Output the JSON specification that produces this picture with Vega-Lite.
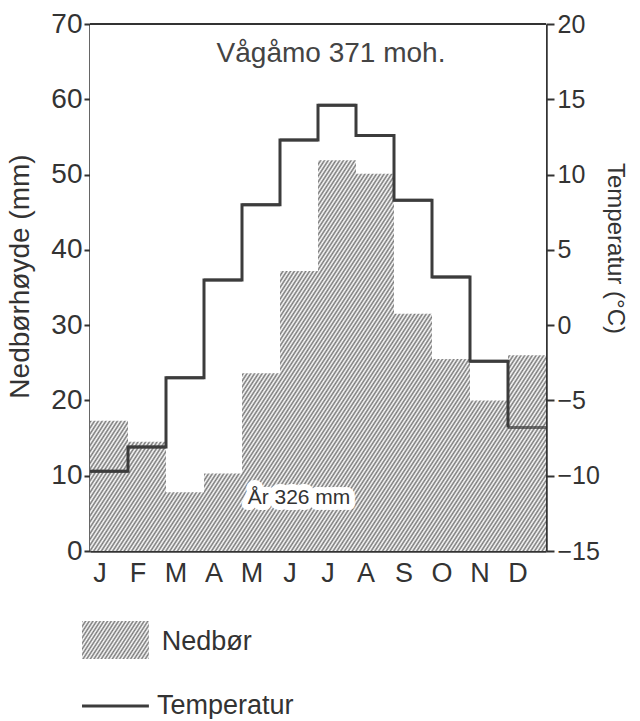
{
"padding": {"left": 6, "top": 10, "right": 0, "bottom": 0},
"config": {"font": "Liberation Sans", "view": {"stroke": null},
  "axis": {"zindex": 1, "grid": false, "labelColor": "#333", "titleColor": "#333", "tickColor": "#333", "domainColor": "#333", "titleFontWeight": "normal"}},
"spacing": 35,
"vconcat": [
{
 "width": 456, "height": 527,
 "data": {"values": [
  {"mnd":"jan","nedbor":17.3,"temp":-9.7},
  {"mnd":"feb","nedbor":14.5,"temp":-8.1},
  {"mnd":"mar","nedbor":7.8,"temp":-3.5},
  {"mnd":"apr","nedbor":10.3,"temp":3.0},
  {"mnd":"mai","nedbor":23.6,"temp":8.0},
  {"mnd":"jun","nedbor":37.2,"temp":12.3},
  {"mnd":"jul","nedbor":51.9,"temp":14.6},
  {"mnd":"aug","nedbor":50.1,"temp":12.6},
  {"mnd":"sep","nedbor":31.5,"temp":8.3},
  {"mnd":"okt","nedbor":25.5,"temp":3.2},
  {"mnd":"nov","nedbor":20.0,"temp":-2.4},
  {"mnd":"des","nedbor":26.0,"temp":-6.8}
 ]},
 "layer": [
  {"layer": [
   {"mark": {"type": "bar", "fill": {"gradient": "linear", "x1": 0, "y1": 0, "x2": 0.12195, "y2": 1.09756, "stops": [
{"offset":0,"color":"#777"},{"offset":0.005,"color":"#fff"},{"offset":0.01,"color":"#777"},{"offset":0.015,"color":"#fff"},{"offset":0.02,"color":"#777"},{"offset":0.025,"color":"#fff"},{"offset":0.03,"color":"#777"},{"offset":0.035,"color":"#fff"},{"offset":0.04,"color":"#777"},{"offset":0.045,"color":"#fff"},{"offset":0.05,"color":"#777"},{"offset":0.055,"color":"#fff"},{"offset":0.06,"color":"#777"},{"offset":0.065,"color":"#fff"},{"offset":0.07,"color":"#777"},{"offset":0.075,"color":"#fff"},{"offset":0.08,"color":"#777"},{"offset":0.085,"color":"#fff"},{"offset":0.09,"color":"#777"},{"offset":0.095,"color":"#fff"},
{"offset":0.1,"color":"#777"},{"offset":0.105,"color":"#fff"},{"offset":0.11,"color":"#777"},{"offset":0.115,"color":"#fff"},{"offset":0.12,"color":"#777"},{"offset":0.125,"color":"#fff"},{"offset":0.13,"color":"#777"},{"offset":0.135,"color":"#fff"},{"offset":0.14,"color":"#777"},{"offset":0.145,"color":"#fff"},{"offset":0.15,"color":"#777"},{"offset":0.155,"color":"#fff"},{"offset":0.16,"color":"#777"},{"offset":0.165,"color":"#fff"},{"offset":0.17,"color":"#777"},{"offset":0.175,"color":"#fff"},{"offset":0.18,"color":"#777"},{"offset":0.185,"color":"#fff"},{"offset":0.19,"color":"#777"},{"offset":0.195,"color":"#fff"},
{"offset":0.2,"color":"#777"},{"offset":0.205,"color":"#fff"},{"offset":0.21,"color":"#777"},{"offset":0.215,"color":"#fff"},{"offset":0.22,"color":"#777"},{"offset":0.225,"color":"#fff"},{"offset":0.23,"color":"#777"},{"offset":0.235,"color":"#fff"},{"offset":0.24,"color":"#777"},{"offset":0.245,"color":"#fff"},{"offset":0.25,"color":"#777"},{"offset":0.255,"color":"#fff"},{"offset":0.26,"color":"#777"},{"offset":0.265,"color":"#fff"},{"offset":0.27,"color":"#777"},{"offset":0.275,"color":"#fff"},{"offset":0.28,"color":"#777"},{"offset":0.285,"color":"#fff"},{"offset":0.29,"color":"#777"},{"offset":0.295,"color":"#fff"},
{"offset":0.3,"color":"#777"},{"offset":0.305,"color":"#fff"},{"offset":0.31,"color":"#777"},{"offset":0.315,"color":"#fff"},{"offset":0.32,"color":"#777"},{"offset":0.325,"color":"#fff"},{"offset":0.33,"color":"#777"},{"offset":0.335,"color":"#fff"},{"offset":0.34,"color":"#777"},{"offset":0.345,"color":"#fff"},{"offset":0.35,"color":"#777"},{"offset":0.355,"color":"#fff"},{"offset":0.36,"color":"#777"},{"offset":0.365,"color":"#fff"},{"offset":0.37,"color":"#777"},{"offset":0.375,"color":"#fff"},{"offset":0.38,"color":"#777"},{"offset":0.385,"color":"#fff"},{"offset":0.39,"color":"#777"},{"offset":0.395,"color":"#fff"},
{"offset":0.4,"color":"#777"},{"offset":0.405,"color":"#fff"},{"offset":0.41,"color":"#777"},{"offset":0.415,"color":"#fff"},{"offset":0.42,"color":"#777"},{"offset":0.425,"color":"#fff"},{"offset":0.43,"color":"#777"},{"offset":0.435,"color":"#fff"},{"offset":0.44,"color":"#777"},{"offset":0.445,"color":"#fff"},{"offset":0.45,"color":"#777"},{"offset":0.455,"color":"#fff"},{"offset":0.46,"color":"#777"},{"offset":0.465,"color":"#fff"},{"offset":0.47,"color":"#777"},{"offset":0.475,"color":"#fff"},{"offset":0.48,"color":"#777"},{"offset":0.485,"color":"#fff"},{"offset":0.49,"color":"#777"},{"offset":0.495,"color":"#fff"},
{"offset":0.5,"color":"#777"},{"offset":0.505,"color":"#fff"},{"offset":0.51,"color":"#777"},{"offset":0.515,"color":"#fff"},{"offset":0.52,"color":"#777"},{"offset":0.525,"color":"#fff"},{"offset":0.53,"color":"#777"},{"offset":0.535,"color":"#fff"},{"offset":0.54,"color":"#777"},{"offset":0.545,"color":"#fff"},{"offset":0.55,"color":"#777"},{"offset":0.555,"color":"#fff"},{"offset":0.56,"color":"#777"},{"offset":0.565,"color":"#fff"},{"offset":0.57,"color":"#777"},{"offset":0.575,"color":"#fff"},{"offset":0.58,"color":"#777"},{"offset":0.585,"color":"#fff"},{"offset":0.59,"color":"#777"},{"offset":0.595,"color":"#fff"},
{"offset":0.6,"color":"#777"},{"offset":0.605,"color":"#fff"},{"offset":0.61,"color":"#777"},{"offset":0.615,"color":"#fff"},{"offset":0.62,"color":"#777"},{"offset":0.625,"color":"#fff"},{"offset":0.63,"color":"#777"},{"offset":0.635,"color":"#fff"},{"offset":0.64,"color":"#777"},{"offset":0.645,"color":"#fff"},{"offset":0.65,"color":"#777"},{"offset":0.655,"color":"#fff"},{"offset":0.66,"color":"#777"},{"offset":0.665,"color":"#fff"},{"offset":0.67,"color":"#777"},{"offset":0.675,"color":"#fff"},{"offset":0.68,"color":"#777"},{"offset":0.685,"color":"#fff"},{"offset":0.69,"color":"#777"},{"offset":0.695,"color":"#fff"},
{"offset":0.7,"color":"#777"},{"offset":0.705,"color":"#fff"},{"offset":0.71,"color":"#777"},{"offset":0.715,"color":"#fff"},{"offset":0.72,"color":"#777"},{"offset":0.725,"color":"#fff"},{"offset":0.73,"color":"#777"},{"offset":0.735,"color":"#fff"},{"offset":0.74,"color":"#777"},{"offset":0.745,"color":"#fff"},{"offset":0.75,"color":"#777"},{"offset":0.755,"color":"#fff"},{"offset":0.76,"color":"#777"},{"offset":0.765,"color":"#fff"},{"offset":0.77,"color":"#777"},{"offset":0.775,"color":"#fff"},{"offset":0.78,"color":"#777"},{"offset":0.785,"color":"#fff"},{"offset":0.79,"color":"#777"},{"offset":0.795,"color":"#fff"},
{"offset":0.8,"color":"#777"},{"offset":0.805,"color":"#fff"},{"offset":0.81,"color":"#777"},{"offset":0.815,"color":"#fff"},{"offset":0.82,"color":"#777"},{"offset":0.825,"color":"#fff"},{"offset":0.83,"color":"#777"},{"offset":0.835,"color":"#fff"},{"offset":0.84,"color":"#777"},{"offset":0.845,"color":"#fff"},{"offset":0.85,"color":"#777"},{"offset":0.855,"color":"#fff"},{"offset":0.86,"color":"#777"},{"offset":0.865,"color":"#fff"},{"offset":0.87,"color":"#777"},{"offset":0.875,"color":"#fff"},{"offset":0.88,"color":"#777"},{"offset":0.885,"color":"#fff"},{"offset":0.89,"color":"#777"},{"offset":0.895,"color":"#fff"},
{"offset":0.9,"color":"#777"},{"offset":0.905,"color":"#fff"},{"offset":0.91,"color":"#777"},{"offset":0.915,"color":"#fff"},{"offset":0.92,"color":"#777"},{"offset":0.925,"color":"#fff"},{"offset":0.93,"color":"#777"},{"offset":0.935,"color":"#fff"},{"offset":0.94,"color":"#777"},{"offset":0.945,"color":"#fff"},{"offset":0.95,"color":"#777"},{"offset":0.955,"color":"#fff"},{"offset":0.96,"color":"#777"},{"offset":0.965,"color":"#fff"},{"offset":0.97,"color":"#777"},{"offset":0.975,"color":"#fff"},{"offset":0.98,"color":"#777"},{"offset":0.985,"color":"#fff"},{"offset":0.99,"color":"#777"},{"offset":0.995,"color":"#fff"},
{"offset":1,"color":"#777"}
   ]}},
    "encoding": {
     "x": {"field": "mnd", "type": "ordinal",
       "scale": {"type": "band", "domain": ["jan","feb","mar","apr","mai","jun","jul","aug","sep","okt","nov","des"], "paddingInner": 0, "paddingOuter": 0, "round": true},
       "axis": {"title": null, "labelExpr": "upper(slice(datum.value,0,1))", "ticks": false, "labelPadding": 9, "labelFontSize": 27, "labelAngle": 0, "labelOffset": -9, "domainWidth": 2.5}},
     "y": {"datum": 70, "type": "quantitative"}
    }},
   {"mark": {"type": "bar", "fill": "#fff"},
    "encoding": {
     "x": {"field": "mnd", "type": "ordinal"},
     "y": {"field": "nedbor", "type": "quantitative", "scale": {"domain": [0, 70], "nice": false},
       "axis": {"orient": "left", "values": [0,10,20,30,40,50,60,70], "title": "Nedbørhøyde (mm)", "titleFontSize": 28, "titlePadding": 16, "titleY": 252, "labelFontSize": 28, "labelPadding": 2, "tickSize": 6, "tickWidth": 2, "domainWidth": 2.5}},
     "y2": {"datum": 70}
    }},
   {"data": {"values": [{"kant": "topp"}]},
    "mark": {"type": "rule", "strokeWidth": 2, "color": "#333"},
    "encoding": {"y": {"datum": 70, "type": "quantitative"}}},
   {"data": {"values": [{"tekst": "Vågåmo 371 moh."}]},
    "mark": {"type": "text", "fontSize": 28, "color": "#444", "dx": -6},
    "encoding": {"x": {"datum": "jul", "type": "ordinal"}, "y": {"datum": 66, "type": "quantitative"}, "text": {"field": "tekst"}}},
   {"data": {"values": [{"tekst": "År 326 mm"}]},
    "mark": {"type": "text", "fontSize": 21, "fill": "#fff", "stroke": "#fff", "strokeWidth": 12, "strokeJoin": "round"},
    "encoding": {"x": {"datum": "jun", "type": "ordinal"}, "y": {"datum": 7.1, "type": "quantitative"}, "text": {"field": "tekst"}}},
   {"data": {"values": [{"tekst": "År 326 mm"}]},
    "mark": {"type": "text", "fontSize": 21, "color": "#333"},
    "encoding": {"x": {"datum": "jun", "type": "ordinal"}, "y": {"datum": 7.1, "type": "quantitative"}, "text": {"field": "tekst"}}}
  ]},
  {"encoding": {"y": {"field": "temp", "type": "quantitative", "scale": {"domain": [-15, 20], "nice": false, "zero": false},
     "axis": {"orient": "right", "values": [-15,-10,-5,0,5,10,15,20], "title": "Temperatur (°C)", "titleFontSize": 24, "titlePadding": 3, "titleY": 224, "labelFontSize": 25, "labelPadding": 3, "tickSize": 8, "tickWidth": 2, "domainWidth": 2.5}}},
   "layer": [
    {"mark": {"type": "line", "interpolate": "step-after", "strokeWidth": 3, "color": "#3c3c3c"},
     "encoding": {"x": {"field": "mnd", "type": "ordinal", "bandPosition": 0, "sort": ["jan","feb","mar","apr","mai","jun","jul","aug","sep","okt","nov","des"]}}},
    {"mark": {"type": "tick", "thickness": 3, "size": 38, "color": "#3c3c3c"},
     "encoding": {"x": {"field": "mnd", "type": "ordinal"}}}
   ]}
 ],
 "resolve": {"scale": {"y": "independent"}}
},
{
 "width": 456, "height": 66,
 "layer": [
  {"data": {"values": [{"item": "Nedbør"}]},
   "mark": {"type": "bar", "size": 38, "fill": {"gradient": "linear", "x1": 0, "y1": 0, "x2": 1.205, "y2": 0.4438, "stops": [
{"offset":0,"color":"#777"},{"offset":0.02,"color":"#fff"},{"offset":0.04,"color":"#777"},{"offset":0.06,"color":"#fff"},{"offset":0.08,"color":"#777"},{"offset":0.1,"color":"#fff"},{"offset":0.12,"color":"#777"},{"offset":0.14,"color":"#fff"},{"offset":0.16,"color":"#777"},{"offset":0.18,"color":"#fff"},{"offset":0.2,"color":"#777"},{"offset":0.22,"color":"#fff"},{"offset":0.24,"color":"#777"},{"offset":0.26,"color":"#fff"},{"offset":0.28,"color":"#777"},{"offset":0.3,"color":"#fff"},{"offset":0.32,"color":"#777"},{"offset":0.34,"color":"#fff"},{"offset":0.36,"color":"#777"},{"offset":0.38,"color":"#fff"},{"offset":0.4,"color":"#777"},{"offset":0.42,"color":"#fff"},{"offset":0.44,"color":"#777"},{"offset":0.46,"color":"#fff"},{"offset":0.48,"color":"#777"},{"offset":0.5,"color":"#fff"},{"offset":0.52,"color":"#777"},{"offset":0.54,"color":"#fff"},{"offset":0.56,"color":"#777"},{"offset":0.58,"color":"#fff"},{"offset":0.6,"color":"#777"},{"offset":0.62,"color":"#fff"},{"offset":0.64,"color":"#777"},{"offset":0.66,"color":"#fff"},{"offset":0.68,"color":"#777"},{"offset":0.7,"color":"#fff"},{"offset":0.72,"color":"#777"},{"offset":0.74,"color":"#fff"},{"offset":0.76,"color":"#777"},{"offset":0.78,"color":"#fff"},{"offset":0.8,"color":"#777"},{"offset":0.82,"color":"#fff"},{"offset":0.84,"color":"#777"},{"offset":0.86,"color":"#fff"},{"offset":0.88,"color":"#777"},{"offset":0.9,"color":"#fff"},{"offset":0.92,"color":"#777"},{"offset":0.94,"color":"#fff"},{"offset":0.96,"color":"#777"},{"offset":0.98,"color":"#fff"},{"offset":1,"color":"#777"}
   ]}},
   "encoding": {
    "x": {"datum": -0.21, "type": "quantitative", "scale": {"domain": [0, 12], "nice": false, "zero": false}, "axis": null},
    "x2": {"datum": 1.55},
    "y": {"field": "item", "type": "nominal", "scale": {"type": "point", "domain": ["Nedbør", "Temperatur"], "padding": 0}, "axis": null}
   }},
  {"data": {"values": [{"item": "Temperatur"}]},
   "mark": {"type": "rule", "strokeWidth": 3, "color": "#3c3c3c"},
   "encoding": {
    "x": {"datum": -0.21, "type": "quantitative", "axis": null},
    "x2": {"datum": 1.55},
    "y": {"field": "item", "type": "nominal", "axis": null}
   }},
  {"data": {"values": [{"item": "Nedbør"}]},
   "mark": {"type": "text", "align": "left", "fontSize": 27, "color": "#333", "dy": 2},
   "encoding": {
    "x": {"datum": 1.89, "type": "quantitative", "axis": null},
    "y": {"field": "item", "type": "nominal", "axis": null},
    "text": {"field": "item"}
   }},
  {"data": {"values": [{"item": "Temperatur"}]},
   "mark": {"type": "text", "align": "left", "fontSize": 27, "color": "#333"},
   "encoding": {
    "x": {"datum": 1.76, "type": "quantitative", "axis": null},
    "y": {"field": "item", "type": "nominal", "axis": null},
    "text": {"field": "item"}
   }}
 ]
}
]
}
